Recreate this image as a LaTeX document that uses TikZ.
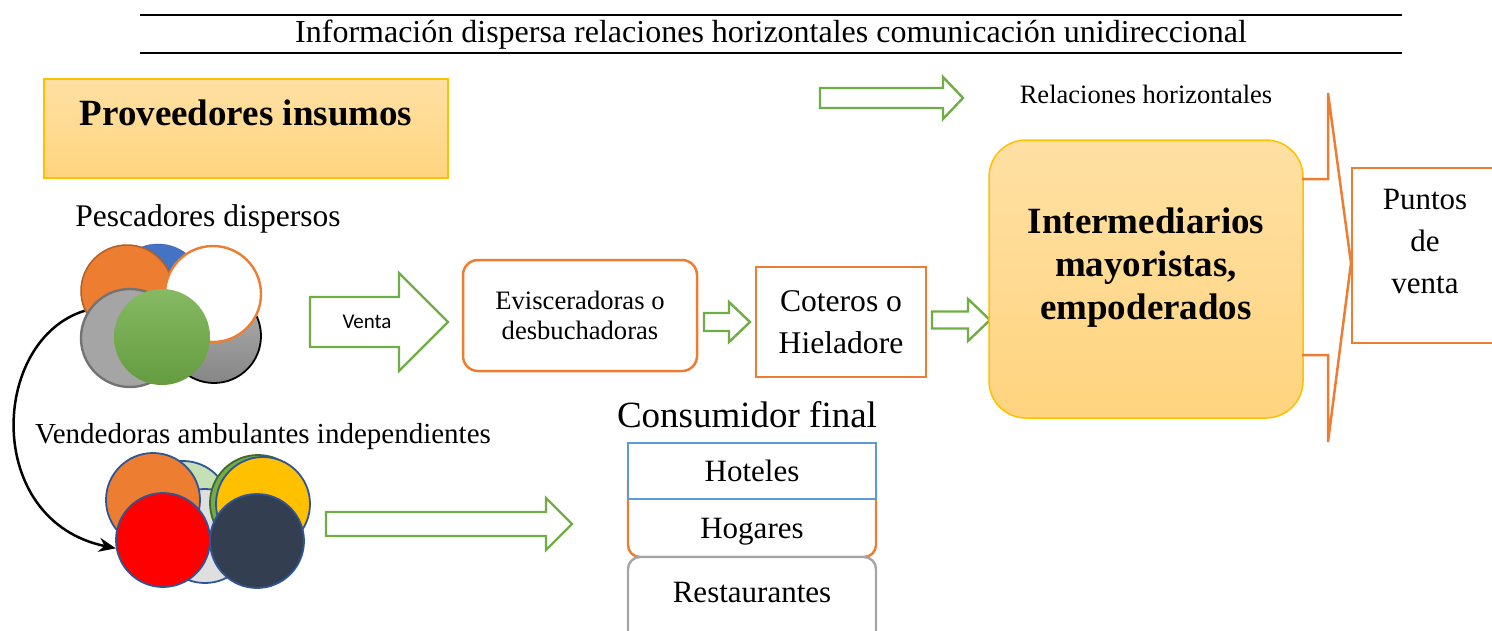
\documentclass[tikz,border=0pt]{standalone}
\usepackage{fontspec}
\setmainfont{Liberation Serif}
\newfontfamily\calibri{Carlito}
\usetikzlibrary{arrows.meta}

\definecolor{acOrange}{HTML}{ED7D31}
\definecolor{acGreen}{HTML}{70AD47}
\definecolor{acBlue}{HTML}{5B9BD5}
\definecolor{acDBlue}{HTML}{4472C4}
\definecolor{acGray}{HTML}{A5A5A5}
\definecolor{acGold}{HTML}{FFC000}
\definecolor{acNavy}{HTML}{333F50}
\definecolor{ringBlue}{HTML}{2F5597}
\definecolor{lightGreen}{HTML}{C5E0B4}
\definecolor{boxTop}{HTML}{FFE0A3}
\definecolor{boxBot}{HTML}{FFD47F}

% hollow block arrow: start, head base, tip, mid y, half body, half head
\newcommand{\greenarrow}[6]{%
  \draw[acGreen, line width=2.4pt, line join=miter]
    (#1,#4-#5) -- (#2,#4-#5) -- (#2,#4-#6) -- (#3,#4)
    -- (#2,#4+#6) -- (#2,#4+#5) -- (#1,#4+#5) -- cycle;}

\begin{document}
\begin{tikzpicture}[x=1pt, y=-1pt,
    circ/.style={circle, inner sep=0pt, minimum size=#1},
    ring/.style={draw=ringBlue, line width=1.8pt},
    goldbox/.style={draw=acGold, line width=1.5pt, top color=boxTop, bottom color=boxBot},
    consbox/.style={draw, line width=2.4pt, fill=white, minimum width=248pt}]
  \useasboundingbox (0,0) rectangle (1492,630);

  % title
  \draw[line width=1.3pt] (140,15) -- (1402,15);
  \draw[line width=1.3pt] (140,53) -- (1402,53);
  \node[font=\fontsize{32}{38}\selectfont] (title) at (771,35)
    {Información dispersa relaciones horizontales comunicación unidireccional};

  \node[goldbox, minimum width=404pt, minimum height=99pt] (prov) at (246,128.5) {};
  \node[font=\fontsize{37}{42}\selectfont\bfseries] (provtxt) at (246,113) {Proveedores insumos};

  \greenarrow{820}{943}{963}{98}{10}{21}
  \node[font=\fontsize{26.5}{30}\selectfont] (rel) at (1146,94) {Relaciones horizontales};

  % pescadores
  \node[font=\fontsize{31.5}{36}\selectfont] (pesc) at (208,219) {Pescadores dispersos};
  \node[circ=92pt, draw=acDBlue!80!black, fill=acDBlue] (fBlue) at (158,290) {};
  \node[circ=92pt, draw=acOrange!75!black, line width=1.5pt, fill=acOrange] (fOrange) at (127,291) {};
  \node[circ=94pt, draw=black, line width=1.8pt, top color=gray!60, bottom color=gray!95] (fDGray) at (214,336) {};
  \node[circ=96pt, draw=acOrange, line width=2.4pt, fill=white] (fWhite) at (213,294) {};
  \node[circ=98pt, draw=gray!90!black, line width=2.4pt, fill=acGray] (fLGray) at (130,338) {};
  \node[circ=96pt, top color=acGreen!85!white, bottom color=acGreen!90!black] (fGreen) at (162,337) {};

  % vendedoras
  \node[font=\fontsize{29}{34}\selectfont] (vend) at (263,437) {Vendedoras ambulantes independientes};
  \node[circ=94pt, ring, fill=lightGreen] (vLGreen) at (183,508) {};
  \node[circ=94pt, ring, fill=gray!25] (vLGray) at (205,536) {};
  \node[circ=94pt, ring, fill=acOrange] (vOrange) at (153,500) {};
  \node[circ=96pt, draw=acGreen!60!black, line width=1.8pt, fill=acGreen] (vGreen) at (258,503) {};
  \node[circ=94pt, ring, fill=acGold] (vYellow) at (263,504) {};
  \node[circ=94pt, ring, fill=red] (vRed) at (163,540) {};
  \node[circ=94pt, ring, fill=acNavy] (vNavy) at (257,541) {};

  \draw[line width=2.5pt, -{Stealth[length=17pt, width=14pt]}]
    (fOrange.205) .. controls (-10,340) and (-17,521) .. (vRed.190);

  % cadena
  \greenarrow{310}{399}{448}{322}{25}{49}
  \node[font=\calibri\fontsize{21}{24}\selectfont] (venta) at (367,322) {Venta};

  \node[draw=acOrange, line width=2.5pt, rounded corners=15pt, minimum width=234pt, minimum height=111pt,
    align=center, font=\fontsize{26.6}{30}\selectfont] (evisc) at (580,315.5) {Evisceradoras o\\desbuchadoras};
  \greenarrow{704}{729}{750}{322}{9}{20}
  \node[draw=acOrange, line width=2.8pt, minimum width=170pt, minimum height=110pt,
    align=center, font=\fontsize{31.6}{42}\selectfont] (cot) at (841,322) {Coteros o\\Hieladore};
  \greenarrow{932}{968}{990}{320}{8.5}{21}

  \node[goldbox, rounded corners=37pt, minimum width=314pt, minimum height=278pt] (interm) at (1146,279) {};
  \node[align=center, font=\fontsize{37}{43}\selectfont\bfseries] (intermtxt) at (1146,268)
    {Intermediarios\\mayoristas,\\empoderados};

  \draw[acOrange, line width=2.5pt, line join=miter]
    (1302,179) -- (1328,179) -- (1328,93) -- (1351,263) -- (1328,442) -- (1328,355) -- (1302,355);
  \draw[acOrange, line width=2.5pt] (1500,168) -- (1352,168) -- (1352,343) -- (1500,343);
  \node[align=center, font=\fontsize{31}{42}\selectfont] (puntos) at (1425,241) {Puntos\\de\\venta};

  % consumidor
  \greenarrow{326}{546}{572}{524}{12}{26}
  \node[font=\fontsize{37}{42}\selectfont] (cons) at (747,415) {Consumidor final};
  \node[consbox, draw=acOrange, rounded corners=12pt, minimum height=87pt] (hog) at (752,513.5) {};
  \node[font=\fontsize{31}{36}\selectfont] (hogtxt) at (752,532) {Hogares};
  \draw[acGray, line width=2.4pt, fill=white, rounded corners=12pt] (628,680) rectangle (876,557);
  \node[font=\fontsize{31}{36}\selectfont] (rest) at (752,592) {Restaurantes};
  \node[consbox, draw=acBlue, minimum height=56pt, font=\fontsize{31}{36}\selectfont] (hot) at (752,471) {Hoteles};
\end{tikzpicture}
\end{document}
